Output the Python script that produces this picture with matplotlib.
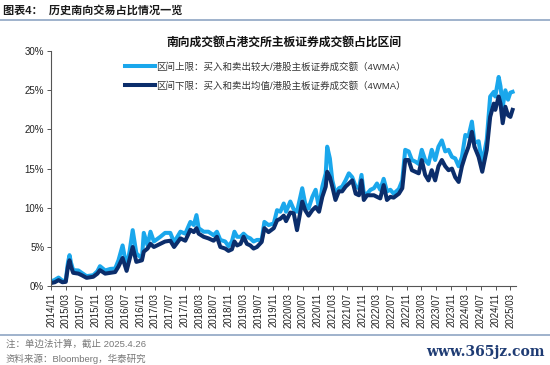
import matplotlib
matplotlib.use("Agg")
import matplotlib.pyplot as plt
import matplotlib.dates as mdates
from matplotlib.ticker import FuncFormatter
import pandas as pd

plt.rcParams['font.family'] = ['Liberation Sans', 'Noto Sans CJK SC', 'DejaVu Sans']

# data (% of HKEX main board turnover)
dates = [
    "2014-11-01", "2014-12-01", "2015-01-01", "2015-02-01", "2015-03-01", "2015-03-19",
    "2015-04-01", "2015-04-13", "2015-05-01", "2015-06-13", "2015-07-10", "2015-08-19",
    "2015-10-13", "2015-11-16", "2015-12-07", "2016-01-19", "2016-03-01", "2016-04-10",
    "2016-05-07", "2016-06-10", "2016-07-13", "2016-08-07", "2016-09-01", "2016-10-01",
    "2016-11-16", "2016-12-01", "2017-01-01", "2017-01-25", "2017-02-22", "2017-04-16",
    "2017-05-25", "2017-07-07", "2017-08-07", "2017-09-28", "2017-11-07", "2017-12-19",
    "2018-01-16", "2018-02-07", "2018-02-25", "2018-04-07", "2018-05-16", "2018-06-28",
    "2018-07-25", "2018-08-22", "2018-10-01", "2018-10-28", "2018-11-25", "2018-12-16",
    "2019-01-07", "2019-02-04", "2019-03-01", "2019-03-28", "2019-04-25", "2019-05-22",
    "2019-06-19", "2019-07-28", "2019-08-19", "2019-09-22", "2019-11-04", "2019-12-01",
    "2019-12-28", "2020-01-25", "2020-02-13", "2020-03-19", "2020-04-16", "2020-05-13",
    "2020-06-25", "2020-07-19", "2020-08-16", "2020-09-16", "2020-10-13", "2020-11-10",
    "2020-12-07", "2021-01-04", "2021-01-16", "2021-02-07", "2021-02-27", "2021-03-25",
    "2021-04-22", "2021-05-19", "2021-06-16", "2021-07-13", "2021-08-10", "2021-09-07",
    "2021-10-04", "2021-10-25", "2021-11-13", "2021-12-10", "2022-01-07", "2022-02-04",
    "2022-03-01", "2022-03-28", "2022-04-25", "2022-05-22", "2022-06-19", "2022-07-16",
    "2022-08-28", "2022-09-25", "2022-10-19", "2022-11-16", "2022-12-13", "2023-01-10",
    "2023-02-07", "2023-03-04", "2023-04-01", "2023-04-28", "2023-05-25", "2023-06-22",
    "2023-07-19", "2023-08-16", "2023-09-13", "2023-10-10", "2023-11-07", "2023-12-04",
    "2024-01-01", "2024-01-28", "2024-02-25", "2024-03-22", "2024-04-19", "2024-05-10",
    "2024-06-13", "2024-07-13", "2024-08-19", "2024-09-16", "2024-10-16", "2024-10-28",
    "2024-11-25", "2024-12-10", "2024-12-28", "2025-01-19", "2025-02-10", "2025-03-01",
    "2025-03-19",
]

upper = [
    0.6, 0.8, 1.1, 0.7, 0.7, 3.0,
    3.96, 3.0, 2.04, 2.0, 1.7, 1.28,
    1.4, 1.9, 2.55, 2.0, 2.2, 2.25,
    3.3, 5.2, 2.4, 4.5, 7.15, 4.2,
    3.5, 6.8, 5.2, 6.95, 5.7, 6.3,
    6.8, 6.8, 5.6, 6.95, 6.7, 8.2,
    7.8, 9.07, 7.4, 6.95, 6.95, 6.5,
    6.95, 5.9, 5.7, 5.1, 5.7, 6.95,
    6.3, 6.3, 6.7, 6.3, 6.1, 5.7,
    5.9, 5.9, 8.2, 7.8, 8.0, 9.7,
    9.5, 10.55, 9.5, 10.8, 9.8, 9.5,
    12.5, 10.55, 9.9, 11.4, 12.3, 9.9,
    12.7, 14.4, 17.8, 16.3, 13.5, 11.8,
    12.5, 12.7, 13.5, 14.4, 13.9, 12.7,
    12.5, 14.2, 11.8, 11.8, 12.3, 12.5,
    13.1, 12.3, 13.7, 12.1, 12.3, 11.8,
    12.4, 13.5, 17.4, 17.2, 16.1, 15.9,
    15.6, 17.4, 16.1, 15.6, 17.4, 16.1,
    17.8, 18.6, 17.2, 17.4, 16.5, 16.3,
    15.3, 16.5, 19.3, 19.1, 21.0, 18.3,
    18.5, 15.6, 18.7, 24.2, 24.8, 24.2,
    26.7, 25.5, 22.9, 25.0, 23.8, 24.7,
    24.8,
]

lower = [
    0.4, 0.5, 0.77, 0.5, 0.55, 2.5,
    3.3, 2.5, 1.7, 1.6, 1.4, 1.06,
    1.2, 1.6, 2.04, 1.6, 1.7, 1.8,
    2.5, 3.6, 1.95, 3.5, 5.0, 3.1,
    3.3, 4.4, 4.8, 5.4, 5.0, 5.4,
    5.7, 5.8, 5.0, 6.1, 5.8, 7.2,
    6.9, 7.4, 6.7, 6.3, 6.1, 5.8,
    6.3, 5.0, 4.8, 4.5, 4.7, 5.7,
    5.2, 5.4, 6.3, 5.4, 5.2, 4.8,
    5.0, 5.65, 7.4, 6.9, 7.4, 8.4,
    8.6, 9.0, 8.3, 9.4, 9.3, 7.15,
    10.8, 9.7, 9.0, 9.7, 10.1, 9.5,
    11.4, 12.7, 14.6, 13.9, 12.7, 11.0,
    12.1, 12.1, 12.7, 13.1, 13.5, 11.8,
    11.6, 13.5, 11.0, 11.6, 11.6, 11.6,
    11.4, 11.2, 12.9, 11.0, 11.4, 11.3,
    11.8, 12.5, 16.1, 16.1, 14.8, 14.6,
    14.4, 16.1, 14.2, 13.5, 14.8, 13.5,
    15.3, 16.1, 15.3, 14.8, 15.0, 13.9,
    13.3, 15.3, 16.7, 17.8, 19.7, 17.8,
    16.5, 14.6, 17.4, 21.6, 23.3, 22.5,
    24.2, 23.3, 20.8, 22.9, 21.8, 21.6,
    22.5,
]

labels = [
    "区间上限：买入和卖出较大/港股主板证券成交额（4WMA）",
    "区间下限：买入和卖出均值/港股主板证券成交额（4WMA）",
]

x = pd.to_datetime(dates)

fig = plt.figure(figsize=(5.5, 3.65), dpi=100)
ax = fig.add_axes([0.093, 0.216, 0.846, 0.644])

ax.plot(x, upper, color='#1AA7EC', lw=2.9, solid_joinstyle='round', label=labels[0])
ax.plot(x, lower, color='#0B2D6B', lw=2.9, solid_joinstyle='round', label=labels[1])

ax.set_ylim(0, 30)
ax.set_yticks(range(0, 31, 5))
ax.yaxis.set_major_formatter(FuncFormatter(lambda v, p: f"{v:.0f}%"))
ax.set_xlim(pd.Timestamp("2014-11-01"), pd.Timestamp("2025-04-20"))
ax.xaxis.set_major_locator(mdates.MonthLocator(bymonth=[3, 7, 11], bymonthday=1))
ax.xaxis.set_major_formatter(mdates.DateFormatter("%Y/%m"))

for s in ['top', 'right']:
    ax.spines[s].set_visible(False)
for s in ['left', 'bottom']:
    ax.spines[s].set_color('#555555')
    ax.spines[s].set_linewidth(0.8)
ax.tick_params(axis='y', labelsize=7, length=3, width=0.7, color='#555555', pad=2, labelcolor='#222222')
ax.tick_params(axis='x', labelsize=7, length=3, width=0.7, color='#555555', pad=2,
               labelrotation=90, labelcolor='#222222')

leg = ax.legend(loc='upper left', bbox_to_anchor=(0.14, 0.99), frameon=False, fontsize=6.8,
                handlelength=3.2, handletextpad=0.1, labelspacing=1.0)
for t in leg.get_texts():
    t.set_color('#333333')

ax.set_title("南向成交额占港交所主板证券成交额占比区间", fontsize=8.5, fontweight='bold', pad=4,
             color='#111111')

# header, rules and footnotes
fig.text(0.005, 0.972, "图表4：  历史南向交易占比情况一览", fontsize=8, fontweight='bold',
         va='center', ha='left', color='#1a1a1a')
fig.add_artist(plt.Line2D([0, 1], [0.945, 0.945], color='#8FA6C4', lw=1.2))
fig.add_artist(plt.Line2D([0, 1], [0.083, 0.083], color='#8FA6C4', lw=1.2))
fig.text(0.01, 0.058, "注：单边法计算，截止 2025.4.26", fontsize=6.8, color='#777777', va='center')
fig.text(0.01, 0.018, "资料来源：Bloomberg，华泰研究", fontsize=6.8, color='#777777', va='center')
fig.text(0.99, 0.035, "www.365jz.com", fontsize=10, color='#1F3C74', ha='right', va='center',
         family='DejaVu Serif', fontweight='bold')

fig.savefig("out.png", dpi=100)
